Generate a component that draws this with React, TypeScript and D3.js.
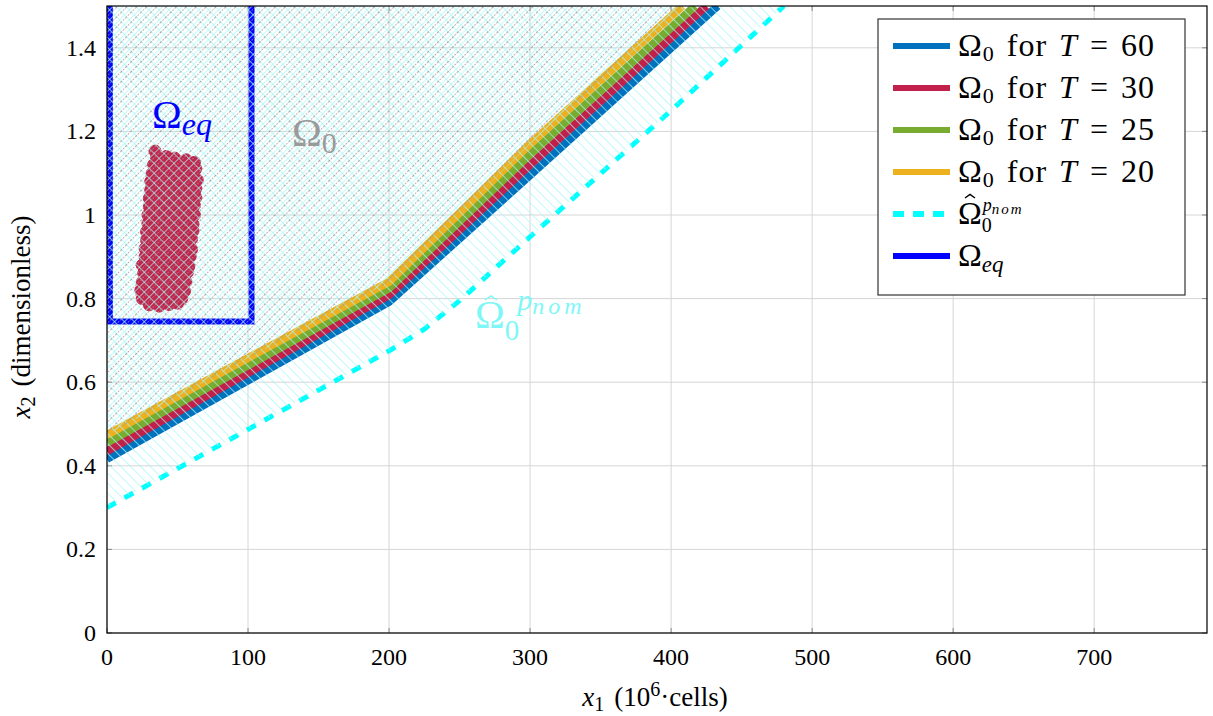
import React from 'react';
import * as d3 from 'd3';

type P = [number, number];

const xTicks = [0, 100, 200, 300, 400, 500, 600, 700];
const yTicks = [0, 0.2, 0.4, 0.6, 0.8, 1, 1.2, 1.4];
const yTickLabels = ['0', '0.2', '0.4', '0.6', '0.8', '1', '1.2', '1.4'];

const omega0T60: P[] = [[0, 0.416], [100, 0.604], [200, 0.792], [300, 1.095], [433, 1.5]];
const omega0T30: P[] = [[0, 0.435], [100, 0.622], [200, 0.808], [300, 1.12], [425, 1.5]];
const omega0T25: P[] = [[0, 0.455], [100, 0.64], [200, 0.824], [300, 1.145], [417, 1.5]];
const omega0T20: P[] = [[0, 0.474], [100, 0.658], [200, 0.84], [300, 1.17], [408, 1.5]];
const omegaHat: P[] = [[0, 0.3], [100, 0.487], [200, 0.675], [225, 0.727], [250, 0.795], [300, 0.948], [400, 1.25], [480, 1.5]];

const eqBoxX = [2, 102.5];
const eqBoxY = [0.745, 1.5];

const scatterPts: P[] = [
  [30, 0.785], [37, 0.782], [44, 0.786], [50, 0.789],
  [25, 0.8], [31, 0.803], [36, 0.799], [42, 0.801], [48, 0.804], [53, 0.8],
  [24, 0.82], [29, 0.818], [35, 0.822], [40, 0.819], [46, 0.821], [51, 0.823], [55, 0.818],
  [25, 0.84], [30, 0.842], [34, 0.838], [39, 0.841], [45, 0.839], [50, 0.843], [56, 0.84],
  [26, 0.86], [31, 0.858], [37, 0.862], [42, 0.86], [47, 0.857], [52, 0.861], [57, 0.863],
  [25, 0.88], [30, 0.882], [35, 0.879], [41, 0.881], [46, 0.878], [53, 0.882], [58, 0.877],
  [27, 0.9], [32, 0.898], [38, 0.902], [43, 0.9], [49, 0.903], [54, 0.899], [59, 0.901],
  [27, 0.92], [33, 0.922], [37, 0.918], [44, 0.921], [48, 0.919], [55, 0.922], [60, 0.918],
  [28, 0.94], [32, 0.938], [39, 0.942], [45, 0.94], [50, 0.937], [56, 0.941], [60, 0.943],
  [28, 0.96], [34, 0.962], [40, 0.958], [44, 0.961], [51, 0.96], [55, 0.957], [61, 0.962],
  [29, 0.98], [33, 0.978], [38, 0.982], [46, 0.98], [52, 0.979], [57, 0.983], [61, 0.978],
  [29, 1.0], [35, 1.002], [41, 0.998], [47, 1.001], [51, 1.003], [56, 0.999], [62, 1.0],
  [30, 1.02], [36, 1.018], [40, 1.022], [45, 1.02], [53, 1.019], [58, 1.021], [62, 1.023],
  [30, 1.04], [35, 1.042], [42, 1.038], [48, 1.041], [52, 1.04], [57, 1.037], [63, 1.042],
  [31, 1.06], [37, 1.058], [43, 1.062], [47, 1.06], [54, 1.061], [59, 1.058], [63, 1.063],
  [31, 1.08], [36, 1.082], [41, 1.079], [49, 1.081], [55, 1.078], [60, 1.082], [64, 1.084],
  [32, 1.1], [38, 1.098], [44, 1.102], [50, 1.1], [56, 1.103], [61, 1.099], [63, 1.11],
  [33, 1.12], [39, 1.118], [46, 1.122], [52, 1.12], [58, 1.121], [62, 1.126],
  [35, 1.137], [42, 1.14], [48, 1.136], [56, 1.132],
  [34, 1.153],
];

const legendEntries = [
  { kind: 'T', label: '60', color: '#0072bd', dash: '' },
  { kind: 'T', label: '30', color: '#c1204a', dash: '' },
  { kind: 'T', label: '25', color: '#77ac30', dash: '' },
  { kind: 'T', label: '20', color: '#edb120', dash: '' },
  { kind: 'hat', label: '', color: '#00ffff', dash: '11 9' },
  { kind: 'eq', label: '', color: '#0000ff', dash: '' },
];

const seriesList = [
  { pts: omega0T60, color: '#0072bd' },
  { pts: omega0T30, color: '#c1204a' },
  { pts: omega0T25, color: '#77ac30' },
  { pts: omega0T20, color: '#edb120' },
];

const FONT = "'Liberation Serif', 'Times New Roman', serif";
const RED = '#c4234b';
const HATCH = '#a8f6f6';

function Hat({ x, y, w, color }: { x: number; y: number; w: number; color: string }) {
  return <path d={`M${x},${y} L${x + w / 2},${y - w * 0.35} L${x + w},${y}`} fill="none" stroke={color} strokeWidth={1.5} />;
}

export default function App() {
  const L = 107, R = 1207, T = 6, B = 633;
  const x = d3.scaleLinear().domain([0, 780]).range([L, R]);
  const y = d3.scaleLinear().domain([0, 1.5]).range([B, T]);
  const line = d3.line<P>().x(d => x(d[0])).y(d => y(d[1]));
  const region = (pts: P[]) => {
    const last = pts[pts.length - 1];
    const poly: P[] = [...pts, [last[0], 1.7], [-20, 1.7], [-20, pts[0][1]]];
    return line(poly) + 'Z';
  };
  const eqPath = line([[eqBoxX[0], 1.7], [eqBoxX[0], eqBoxY[0]], [eqBoxX[1], eqBoxY[0]], [eqBoxX[1], 1.7]]) || '';

  const legX = 878, legY = 19, legW = 307, legH = 276, rowH = 42;

  return (
    <svg width={1213} height={716} style={{ position: 'absolute', left: 0, top: 0, background: '#fff' }} fontFamily={FONT}>
      <defs>
        <clipPath id="plotClip"><rect x={L} y={T} width={R - L} height={B - T} /></clipPath>
        <clipPath id="hatClip"><path d={region(omegaHat)} /></clipPath>
        <clipPath id="o0Clip"><path d={region(omega0T20)} /></clipPath>
        <pattern id="hatchNW" patternUnits="userSpaceOnUse" width={7} height={7} patternTransform="rotate(-45)">
          <line x1={0} y1={0} x2={0} y2={7} stroke={HATCH} strokeWidth={1.4} />
        </pattern>
        <pattern id="hatchNE" patternUnits="userSpaceOnUse" width={7} height={7} patternTransform="rotate(45)">
          <line x1={0} y1={0} x2={0} y2={7} stroke={HATCH} strokeWidth={1.4} />
          <line x1={3.5} y1={0} x2={3.5} y2={7} stroke="#999" strokeOpacity={0.85} strokeWidth={1.1} strokeDasharray="1.5 1.5" />
        </pattern>
      </defs>

      <g stroke="#d6d6d6" strokeWidth={1}>
        {xTicks.map(t => <line key={'gx' + t} x1={x(t)} x2={x(t)} y1={T} y2={B} />)}
        {yTicks.map(t => <line key={'gy' + t} x1={L} x2={R} y1={y(t)} y2={y(t)} />)}
      </g>
      <g stroke="#888" strokeWidth={1}>
        {xTicks.map(t => <g key={'tx' + t}><line x1={x(t)} x2={x(t)} y1={B} y2={B - 5} /><line x1={x(t)} x2={x(t)} y1={T} y2={T + 5} /></g>)}
        {yTicks.map(t => <g key={'ty' + t}><line x1={L} x2={L + 5} y1={y(t)} y2={y(t)} /><line x1={R} x2={R - 5} y1={y(t)} y2={y(t)} /></g>)}
      </g>

      <g clipPath="url(#plotClip)">
        <path d={eqPath} fill="none" stroke="#0000ff" strokeWidth={6} />
        <g fill={RED} stroke={RED} strokeWidth={1}>
          {scatterPts.map((p, i) => <circle key={i} cx={x(p[0])} cy={y(p[1])} r={6} />)}
        </g>
        {seriesList.map((s, i) => (
          <path key={i} d={line(s.pts) || ''} fill="none" stroke={s.color} strokeWidth={8} />
        ))}
        <path d={line(omegaHat) || ''} fill="none" stroke="#00ffff" strokeWidth={5} strokeDasharray="10 10" />
        <rect x={L} y={T} width={R - L} height={B - T} fill="url(#hatchNW)" clipPath="url(#hatClip)" />
        <rect x={L} y={T} width={R - L} height={B - T} fill="url(#hatchNE)" clipPath="url(#o0Clip)" />
      </g>

      <text x={152} y={128} fontSize={40} fill="#0000ff">Ω<tspan dy={7} fontSize={32} fontStyle="italic">eq</tspan></text>
      <text x={292} y={146} fontSize={40} fill="#9a9a9a">Ω<tspan dy={7} fontSize={30}>0</tspan></text>
      <g fill="#7ff7f7">
        <Hat x={485} y={300} w={12} color="#7ff7f7" />
        <text x={475} y={328} fontSize={40}>Ω<tspan dy={12} fontSize={29}>0</tspan><tspan dx={-2} dy={-30} fontSize={30} fontStyle="italic">p</tspan><tspan dy={4} fontSize={24} fontStyle="italic" letterSpacing={4}>nom</tspan></text>
      </g>

      <rect x={L} y={T} width={R - L} height={B - T} fill="none" stroke="#000" strokeWidth={1.2} />

      <g fontSize={24} fill="#000">
        {xTicks.map(t => <text key={'lx' + t} x={x(t)} y={665} textAnchor="middle">{t}</text>)}
        {yTicks.map((t, i) => <text key={'ly' + t} x={96} y={y(t) + 8} textAnchor="end">{yTickLabels[i]}</text>)}
      </g>

      <text x={655} y={706} fontSize={27} textAnchor="middle">
        <tspan fontStyle="italic">x</tspan><tspan dy={5} fontSize={20}>1</tspan><tspan dy={-5} dx={10}>(10</tspan><tspan dy={-10} fontSize={20}>6</tspan><tspan dy={10}>·cells)</tspan>
      </text>
      <text transform={`translate(30,${317}) rotate(-90)`} fontSize={27} textAnchor="middle">
        <tspan fontStyle="italic">x</tspan><tspan dy={5} fontSize={20}>2</tspan><tspan dy={-5} dx={10}>(dimensionless)</tspan>
      </text>

      <rect x={legX} y={legY} width={legW} height={legH} fill="#fff" stroke="#333" strokeWidth={1.2} />
      {legendEntries.map((e, i) => {
        const cy = legY + 27 + i * rowH;
        return (
          <g key={i}>
            <line x1={893} x2={950} y1={cy} y2={cy} stroke={e.color} strokeWidth={6} strokeDasharray={e.dash || undefined} />
            {e.kind === 'T' && (
              <text x={958} y={cy + 10} fontSize={32} letterSpacing={1}>
                Ω<tspan dy={5} fontSize={22}>0</tspan><tspan dy={-5} dx={12}>for</tspan><tspan dx={12} fontStyle="italic">T</tspan><tspan dx={12}>=</tspan><tspan dx={12}>{e.label}</tspan>
              </text>
            )}
            {e.kind === 'hat' && (
              <g>
                <Hat x={965} y={cy - 16} w={10} color="#000" />
                <text x={958} y={cy + 10} fontSize={32}>Ω<tspan dy={8} fontSize={20}>0</tspan><tspan dx={-9} dy={-21} fontSize={18} fontStyle="italic">p</tspan><tspan dy={3} fontSize={15} fontStyle="italic" letterSpacing={2}>nom</tspan></text>
              </g>
            )}
            {e.kind === 'eq' && (
              <text x={958} y={cy + 10} fontSize={32}>
                Ω<tspan dy={6} fontSize={23} fontStyle="italic">eq</tspan>
              </text>
            )}
          </g>
        );
      })}
    </svg>
  );
}
